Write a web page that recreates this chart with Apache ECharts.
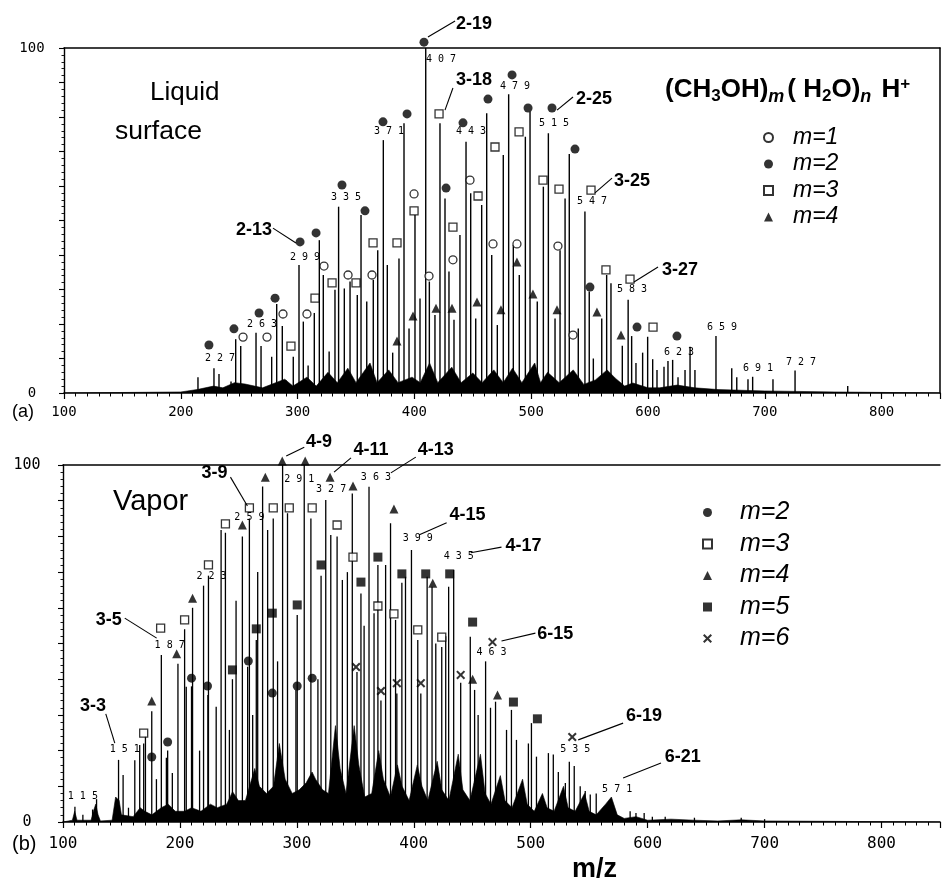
<!DOCTYPE html>
<html><head><meta charset="utf-8">
<script src="https://cdn.jsdelivr.net/npm/echarts@6/dist/echarts.min.js"></script>
<style>html,body{margin:0;padding:0;background:#fff}#c{width:943px;height:882px}</style>
</head><body><div id="c"></div>
<script>
// ---------- Panel (a): liquid surface ----------
const peaksA = [[214.7,4.6],[228.4,7.2],[232.7,5.5],[243,3.3],[247,15.6],[251.3,13.6],[264.4,17.5],[268.7,13.6],[277.8,10.5],[282.1,25.8],[286.9,19.4],[290,3.7],[296.3,10.5],[301.2,37.1],[304.9,20.7],[309,8],[314.3,23.2],[318.6,44.3],[322,34.2],[327,12],[332,29.9],[335.1,54],[340,30.3],[344.9,32.3],[351.1,28.4],[354.3,51.6],[359.2,26.5],[364.8,32.8],[368.6,41.4],[373.4,73.3],[376.8,37.1],[381.4,11.7],[386.8,39],[391.1,78.2],[395.4,18.7],[400.5,51.6],[404.8,27.4],[409.7,100],[412.8,32.3],[417.6,22.6],[421.9,78.2],[426.2,56.4],[429.6,35.2],[433.9,21.2],[439,45.8],[444.2,72.8],[448.2,57.9],[452.5,21.6],[457.6,54.5],[461.9,81.1],[466.2,40],[471,19.7],[476.1,69],[480.7,86.6],[484.7,42.9],[489.8,34.2],[495,74.3],[499,81.5],[505.2,26.5],[510.4,59.8],[514.7,75.3],[520.4,21.6],[524.7,41.4],[529,56.4],[532.6,69.3],[540.3,18.7],[546,52.6],[549.7,29.4],[553.2,10],[560.4,21.6],[564.6,34.2],[568.3,31.8],[578,13.7],[583,27],[586,16.5],[589.7,8.7],[595.4,11.7],[599.7,16.3],[604,9.8],[607.7,6.7],[613.7,7.6],[617.1,9.3],[621.1,9.6],[625.7,4.6],[631.7,6.7],[636,13.4],[640.2,6.7],[658.2,16.5],[671.7,7.2],[676,4.6],[685.6,4],[689.6,4.7],[707,4],[725.9,6.5],[771,2]];
const baseA = [[100,0],[200,0.3],[214,1],[228,2],[236,1.5],[246,3],[255,2.6],[270,1.5],[289,4],[296,2],[308,4.6],[316,2],[326,6],[334,3],[343,7.2],[350,3],[362,8.7],[368,3],[378,6.7],[386,3],[398,4.6],[405,3],[413,8.7],[420,3],[432,7.5],[440,3],[450,5.8],[458,3],[468,6.7],[476,3],[484,7.2],[492,3],[503,8.7],[508,3],[514,6],[524,3],[536,6.7],[545,2.5],[555,3.8],[565,6.7],[572,4.3],[580,2],[587,2.9],[600,1.5],[610,1.5],[625,2.3],[640,1.5],[660,1],[700,0.6],[760,0.3],[850,0]];
const m1A = [[253.3,16.2],[273.8,16.2],[287.5,22.9],[308,22.9],[322.6,36.8],[343.2,34.2],[363.7,34.2],[399.7,57.7],[412.5,33.9],[433,38.6],[447.6,61.7],[467.3,43.2],[487.8,43.2],[522.9,42.6],[535.8,16.8]];
const m2A = [[224.1,13.9],[245.5,18.6],[267,23.2],[280.7,27.5],[302.1,43.8],[315.8,46.4],[338,60.3],[357.7,52.8],[373.1,78.6],[393.7,80.9],[408.2,101.7],[427.1,59.4],[441.6,78.3],[463,85.2],[483.6,92.2],[497.3,82.6],[517.8,82.6],[537.5,70.7],[550.3,30.7],[590.6,19.1],[624.8,16.5]];
const m3A = [[294.3,13.6],[314.9,27.5],[329.5,31.9],[350,31.9],[364.6,43.5],[385.1,43.5],[399.7,52.8],[421.1,80.9],[433,48.1],[454.5,57.1],[469,71.3],[489.6,75.7],[510.1,61.7],[523.8,59.1],[551.2,58.8],[564,35.7],[584.6,33],[604.3,19.1]];
const m4A = [[385.1,15.1],[398.8,22.3],[418.5,24.6],[432.2,24.6],[453.6,26.4],[474.1,24.1],[487.8,38],[501.5,28.7],[522.1,24.1],[556.3,23.5],[576.9,16.8]];
const massLabelsA = [[233.6,9.9,'227'],[269.5,20,'263'],[306.3,39.4,'299'],[341.4,56.8,'335'],[378.3,75.7,'371'],[422.8,96.8,'407'],[448.5,75.7,'443'],[486.1,89,'479'],[519.5,78,'515'],[552.1,55.4,'547'],[586.3,29.9,'583'],[626.5,11.9,'623'],[663.4,19.1,'659'],[694.2,7,'691'],[731,9,'727']];
// [fromMz, fromI, toMz, toI, textMz, textI, text]
const notesA = [[411.6,103.2,434.8,107.8,451,107,'2-19'],[426.2,82,433,88.4,451,90.7,'3-18'],[522.1,82,535.8,85.8,553.8,85.2,'2-25'],[554.6,58,569.2,62.3,586.3,61.4,'3-25'],[588,32.2,608.6,36.5,627.4,35.7,'3-27'],[298.6,43.5,278.9,47.8,262.7,47.2,'2-13']];

// ---------- Panel (b): vapor ----------
const peaksB = [[110.2,4.3],[117,2],[125.3,3.5],[128.7,6.4],[147.5,17.4],[151.4,13.2],[156,4],[161.4,17.3],[165.6,21.6],[169,22],[170.5,24],[175.9,31],[179.9,12],[184.1,46.8],[188.4,18],[189.5,20],[193.5,13.7],[198.3,44.3],[204,54],[205.4,37.9],[209.9,38],[210.8,60],[216.8,20],[220.2,66.2],[223.9,35.6],[224.4,69],[231,32.3],[235.2,81.8],[238.9,81],[242.3,25.8],[244.9,40],[248,62],[253.4,80],[257.9,43.5],[259.4,85],[262.2,30],[265.3,51],[266.5,70],[270.7,94],[275,81.8],[279.8,85],[283.5,45],[287.8,100],[292,86.5],[299.2,37],[300.3,58],[306.3,100],[312,85],[318,40],[320.7,69],[324.7,90.2],[329,80.4],[334.4,80],[338.9,67.8],[343.2,70],[347.4,92],[351.4,42],[354.8,64],[357.5,55],[361.7,93.9],[366,58.5],[369.3,72],[371.9,34],[375.9,72],[380.1,83.7],[384.4,56.6],[385.5,36],[389.8,67],[392.9,68.7],[398,76.2],[403.4,51],[406,36],[411.4,68.7],[415.6,65.9],[418.8,50],[423.9,49],[427.3,52],[429.8,65.9],[434.1,70.6],[440.1,39],[448.3,51.9],[452,37],[455,30],[461.4,45],[465.6,32],[469.9,33.7],[479.3,25.8],[483.5,31.4],[487.8,23],[498,22],[500.6,27.7],[504.9,18.3],[515.1,19.3],[519.3,18.9],[523.6,14],[529.6,10.9],[533,16.9],[537.2,15.7],[542.3,10],[546.6,8.7],[550.9,7.7],[556,8],[568.8,6.2],[585,3],[590,2.5],[597,2.5],[604,1.5],[615,1.5],[640,1.2],[680,1.2],[700,0.8]];
const baseB = [[100,0],[108,0.5],[110,3],[112,0.5],[124,0.5],[126,3],[128,5],[130,2],[132,0.3],[142,0.5],[145,7],[148,6],[150,2],[160,1.5],[166,4],[170,3],[176,2],[184,4],[190,5],[196,3],[204,3],[210,4],[218,3],[226,5],[232,4],[240,5],[245,8.5],[250,6],[256,6],[264,15],[268,10],[274,8],[280,10],[285,22],[290,12],[296,8],[302,9],[308,11],[313,14],[316,12],[322,9],[327,8],[333,27],[337,15],[342,8],[349,27],[353,16],[358,7],[364,8],[370,20],[374,12],[380,7],[386,16],[390,10],[396,6],[403,16],[407,10],[412,6],[420,17],[424,9],[430,6],[438,19],[442,9],[448,6],[457,19],[461,8],[466,5],[474,13],[478,6],[484,4],[493,12],[497,5],[503,3],[510,8],[514,4],[520,3],[528,10],[532,4],[538,3],[546,8],[550,3],[556,2],[564,5],[569,7],[574,2],[580,1],[590,1.5],[600,0.5],[620,0.8],[640,0.5],[660,0.3],[680,0.6],[700,0.3],[850,0]];
const m2B = [[175.9,18.2],[189.5,22.4],[209.9,40.3],[223.6,38.1],[258.5,45.1],[279,36.1],[300.3,38.1],[313.1,40.3]];
const m3B = [[169,24.9],[183.5,54.3],[204,56.6],[224.4,72],[238.9,83.5],[259.4,88],[279.8,88],[293.5,88],[313.1,88],[334.4,83.2],[348,74.2],[369.3,60.5],[383,58.3],[403.4,53.8],[423.9,51.8]];
const m4B = [[175.9,33.9],[197.2,47.1],[210.8,62.7],[253.4,83.2],[273,96.6],[287.5,101.1],[307.1,101.1],[328.4,96.6],[348,94.1],[383,87.7],[416.2,66.9],[450.3,40],[471.6,35.6]];
const m5B = [[244.9,42.6],[265.3,54.1],[279,58.5],[300.3,60.8],[320.7,72],[354.8,67.2],[369.3,74.2],[389.8,69.5],[410.2,69.5],[430.7,69.5],[450.3,56],[485.2,33.6],[505.7,28.9]];
const m6B = [[350.6,43.4],[371.9,36.7],[385.5,38.9],[406,38.9],[440.1,41.2],[467.3,50.4],[535.5,23.8]];
const massLabelsB = [[117,7.3,'115'],[152.8,20.4,'151'],[191.2,49.6,'187'],[227,68.9,'223'],[259.4,85.2,'259'],[302,96.1,'291'],[329.3,93.3,'327'],[367.6,96.4,'363'],[403.4,79.3,'399'],[438.4,74.5,'435'],[466.5,47.6,'463'],[538.1,20.2,'535'],[573.9,9,'571']];
const notesB = [[144.3,22.1,136.6,30.3,125.6,32.5,'3-3'],[180.1,51.5,152.8,57.1,139.2,56.6,'3-5'],[257.7,88.5,243.2,96.6,229.5,97.8,'3-9'],[290.9,102.5,306.3,105,319,106.4,'4-9'],[331.8,98,346.3,102,363.4,104.2,'4-11'],[380.4,97.8,401.7,102.2,418.8,104.2,'4-13'],[404.3,80.4,428.1,83.8,446,86,'4-15'],[448.6,75.4,475,77,493.8,77.3,'4-17'],[475,50.7,504,52.9,521,52.7,'6-15'],[540.6,23,579,27.7,596.9,29.7,'6-19'],[579,12.3,611.4,16.5,630.1,18.2,'6-21']];

const legendA = ['m=1','m=2','m=3','m=4'];
const legendB = ['m=2','m=3','m=4','m=5','m=6'];
const xTickLabels = [100,200,300,400,500,600,700,800];
const yLabelVals = [0, 100];

// ---------- styles ----------
const SYM = {
  'm=1': {symbol:'circle', symbolSize:8, itemStyle:{color:'#fff', borderColor:'#000', borderWidth:1.3}},
  'm=2': {symbol:'circle', symbolSize:9, itemStyle:{color:'#000'}},
  'm=3': {symbol:'rect', symbolSize:8, itemStyle:{color:'#fff', borderColor:'#000', borderWidth:1.3}},
  'm=4': {symbol:'triangle', symbolSize:9, itemStyle:{color:'#000'}},
  'm=5': {symbol:'rect', symbolSize:9, itemStyle:{color:'#000'}},
  'm=6': {symbol:'path://M0,1.6L1.6,0L5,3.4L8.4,0L10,1.6L6.6,5L10,8.4L8.4,10L5,6.6L1.6,10L0,8.4L3.4,5Z', symbolSize:9, itemStyle:{color:'#000'}}
};
const MONO = '"DejaVu Sans Mono", monospace';
const SANS = '"Liberation Sans", Arial, sans-serif';

function lineSeries(g, data, w){
  return {type:'custom', xAxisIndex:g, yAxisIndex:g, data:data, silent:true, z:2, clip:false,
    renderItem:function(params, api){
      const x = api.value(0), y = api.value(1);
      const p0 = api.coord([x,0]), p1 = api.coord([x,y]);
      return {type:'line', shape:{x1:p0[0], y1:p0[1], x2:p1[0], y2:p1[1]}, style:{stroke:'#000', lineWidth:w}};
    }};
}
function baseSeries(g, data){
  return {type:'line', xAxisIndex:g, yAxisIndex:g, data:data, symbol:'none', silent:true, z:1,
    lineStyle:{color:'#000', width:0.6}, areaStyle:{color:'#000', opacity:1}};
}
function markerSeries(g, name, data){
  const s = SYM[name];
  return {type:'scatter', name:name, xAxisIndex:g, yAxisIndex:g, data:data, clip:false, z:6, silent:true,
    symbol:s.symbol, symbolSize:s.symbolSize, itemStyle:s.itemStyle};
}
function massLabelSeries(g, rows){
  return {type:'custom', xAxisIndex:g, yAxisIndex:g, data:rows.map(r=>[r[0],r[1]]), silent:true, z:7, clip:false,
    renderItem:function(params, api){
      const p = api.coord([api.value(0), api.value(1)]);
      return {type:'text', x:p[0], y:p[1], style:{text:rows[params.dataIndex][2].split('').join(' '), font:'10px '+MONO, fill:'#000', align:'center', verticalAlign:'middle'}};
    }};
}
function noteSeries(g, rows){
  return {type:'custom', xAxisIndex:g, yAxisIndex:g, data:rows.map(r=>[r[0],r[1],r[2],r[3],r[4],r[5]]), silent:true, z:8, clip:false,
    renderItem:function(params, api){
      const a = api.coord([api.value(0), api.value(1)]);
      const b = api.coord([api.value(2), api.value(3)]);
      const t = api.coord([api.value(4), api.value(5)]);
      return {type:'group', children:[
        {type:'line', shape:{x1:a[0], y1:a[1], x2:b[0], y2:b[1]}, style:{stroke:'#000', lineWidth:1.1}},
        {type:'text', x:t[0], y:t[1], style:{text:rows[params.dataIndex][6], font:'bold 18px '+SANS, fill:'#000', align:'center', verticalAlign:'middle'}}
      ]};
    }};
}

function xAxisMain(g, fs, margin){
  return {gridIndex:g, type:'value', position:'bottom', min:100, max:850, interval:100,
    axisLine:{onZero:false, lineStyle:{color:'#000', width:1.6}},
    axisTick:{show:true, length:6, lineStyle:{color:'#000', width:1.2}},
    minorTick:{show:true, splitNumber:10, length:3.5, lineStyle:{color:'#000', width:1}},
    splitLine:{show:false},
    axisLabel:{color:'#000', fontFamily:MONO, fontSize:fs, margin:margin,
      formatter:function(v){ return xTickLabels.indexOf(v) >= 0 ? String(v) : ''; }}};
}
function yAxisMain(g, fs, margin){
  return {gridIndex:g, type:'value', position:'left', min:0, max:100, interval:10,
    axisLine:{show:true, onZero:false, lineStyle:{color:'#000', width:1.4}},
    axisTick:{show:true, length:5, lineStyle:{color:'#000', width:1.1}},
    minorTick:{show:true, splitNumber:5, length:2.5, lineStyle:{color:'#000', width:0.9}},
    splitLine:{show:false},
    axisLabel:{color:'#000', fontFamily:MONO, fontSize:fs, margin:margin, align:'center',
      formatter:function(v){ return yLabelVals.indexOf(v) >= 0 ? String(v) : ''; }}};
}
function frameAxis(g, pos){
  return {gridIndex:g, type:'value', position:pos, min:0, max:1,
    axisLine:{show:true, onZero:false, lineStyle:{color:'#000', width:1.5}},
    axisTick:{show:false}, axisLabel:{show:false}, splitLine:{show:false}};
}
function legendCfg(data, left, top, fs, lh, gap, spacer){
  return {data:data, orient:'vertical', left:left, top:top, itemWidth:9, itemHeight:9, itemGap:gap,
    selectedMode:false, padding:0,
    formatter:function(name){ return '{g|}' + name; },
    textStyle:{fontFamily:SANS, fontSize:fs, fontStyle:'italic', color:'#000', lineHeight:lh,
      rich:{g:{width:spacer}}}};
}

const chart = echarts.init(document.getElementById('c'), null, {renderer:'canvas'});
chart.setOption({
  animation:false,
  backgroundColor:'#fff',
  grid:[{left:64, top:48, width:876, height:345}, {left:63, top:465, width:880, height:357}],
  xAxis:[xAxisMain(0,14,12), xAxisMain(1,16,14), frameAxis(0,'top'), frameAxis(1,'top')],
  yAxis:[yAxisMain(0,14,32), yAxisMain(1,15,36), frameAxis(0,'right')],
  title:[
    {text:'Liquid', left:150, top:80, padding:0, textStyle:{fontFamily:SANS, fontSize:26, fontWeight:'normal', color:'#000'}},
    {text:'surface', left:115, top:118, padding:0, textStyle:{fontFamily:SANS, fontSize:26.5, fontWeight:'normal', color:'#000'}},
    {text:'Vapor', left:113, top:487, padding:0, textStyle:{fontFamily:SANS, fontSize:29, fontWeight:'normal', color:'#000'}},
    {text:'(a)', left:12, top:403, padding:0, textStyle:{fontFamily:SANS, fontSize:18, fontWeight:'normal', color:'#000'}},
    {text:'(b)', left:12, top:834, padding:0, textStyle:{fontFamily:SANS, fontSize:20, fontWeight:'normal', color:'#000'}},
    {text:'m/z', left:572, top:856, padding:0, textStyle:{fontFamily:SANS, fontSize:27, fontWeight:'bold', color:'#000'}},
    {text:'(CH{s|3}OH){si|m}{sp|}( H{s|2}O){si|n}{sp|} H{p|+}', left:665, top:74, padding:0,
      textStyle:{fontFamily:SANS, fontSize:26, fontWeight:'bold', color:'#000',
        rich:{s:{fontFamily:SANS, fontSize:17, fontWeight:'bold', padding:[12,0,0,0]},
              si:{fontFamily:SANS, fontSize:18, fontStyle:'italic', fontWeight:'bold', padding:[14,0,0,0]},
              sp:{width:3},
              p:{fontFamily:SANS, fontSize:17, fontWeight:'bold', padding:[0,0,11,0]}}}}
  ],
  legend:[legendCfg(legendA, 763, 126, 23, 20, 3.5, 15), legendCfg(legendB, 702, 500, 25, 22, 6.5, 23)],
  series:[
    baseSeries(0, baseA), lineSeries(0, peaksA, 1.4),
    markerSeries(0,'m=1',m1A), markerSeries(0,'m=2',m2A), markerSeries(0,'m=3',m3A), markerSeries(0,'m=4',m4A),
    massLabelSeries(0, massLabelsA), noteSeries(0, notesA),
    baseSeries(1, baseB), lineSeries(1, peaksB, 1.3),
    markerSeries(1,'m=2',m2B), markerSeries(1,'m=3',m3B), markerSeries(1,'m=4',m4B), markerSeries(1,'m=5',m5B), markerSeries(1,'m=6',m6B),
    massLabelSeries(1, massLabelsB), noteSeries(1, notesB)
  ]
});
</script></body></html>
